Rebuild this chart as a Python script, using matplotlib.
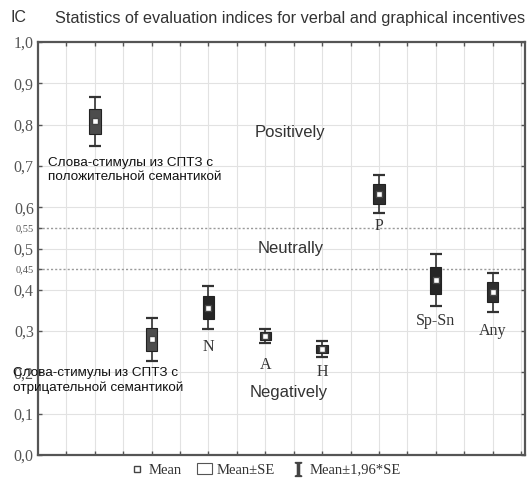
import numpy as np
import matplotlib
matplotlib.use("Agg")
import matplotlib.pyplot as plt
from matplotlib.lines import Line2D
from matplotlib.patches import Patch

plt.rcParams['mathtext.fontset'] = 'stix'

# values
groups = ['pos', 'neg', 'N', 'A', 'H', 'P', 'Sp-Sn', 'Any']
labels = ['', '', 'N', 'A', 'H', 'P', 'Sp-Sn', 'Any']
means = [0.808, 0.280, 0.357, 0.288, 0.257, 0.632, 0.423, 0.394]
se = [0.030, 0.027, 0.027, 0.009, 0.010, 0.024, 0.032, 0.024]
box_colors = ['#4d4d4d', '#4d4d4d', '#262626', '#2e2e2e', '#2e2e2e', '#2e2e2e', '#262626', '#2e2e2e']
yticks = [0.0, 0.1, 0.2, 0.3, 0.4, 0.45, 0.5, 0.55, 0.6, 0.7, 0.8, 0.9, 1.0]

# gap between whisker end and the group label (axis units)
label_gap = [0, 0, 0.022, 0.032, 0.018, 0.012, 0.017, 0.027]

means = np.array(means)
se = np.array(se)
x = np.arange(1, len(means) + 1)

fig = plt.figure(figsize=(5.27, 4.83), dpi=100)
ax = fig.add_axes([38 / 527, 1 - 455 / 483, 487 / 527, 413 / 483])

# grid
for gx in np.arange(0.5, 8.6, 0.5):
    ax.axvline(gx, color='#e2e2e2', lw=0.8, zorder=0)
for gy in np.arange(0.1, 1.0, 0.1):
    ax.axhline(gy, color='#e2e2e2', lw=0.8, zorder=0)
for gy in [0.45, 0.55]:
    ax.axhline(gy, color='#9a9a9a', lw=1.0, ls=(0, (1.5, 1.5)), zorder=1)

# whiskers, boxes, means
ax.errorbar(x, means, yerr=1.96 * se, fmt='none', ecolor='#333333',
            elinewidth=1.2, capsize=4, capthick=1.6, zorder=2)
ax.bar(x, 2 * se, bottom=means - se, width=0.2, color=box_colors,
       edgecolor='#222222', linewidth=0.8, zorder=3)
ax.plot(x, means, ls='none', marker='s', ms=4.5, mfc='white', mec='#444444',
        mew=1.0, zorder=4)

for xi, m, s, lab, g in zip(x, means, se, labels, label_gap):
    if lab:
        ax.text(xi, m - 1.96 * s - g, lab, ha='center', va='top',
                family='Liberation Serif', fontsize=11.5, color='#333333')

ax.set_xlim(0, 8.57)
ax.set_ylim(0, 1.0)
ax.set_xticks(np.arange(0.5, 8.6, 0.5))
ax.set_xticklabels([])
ax.set_yticks(yticks)
ax.set_yticklabels([('%.2f' % t if t in (0.45, 0.55) else '%.1f' % t).replace('.', ',')
                    for t in yticks], family='Liberation Serif', color='#555555')
for t, lab in zip(yticks, ax.get_yticklabels()):
    lab.set_fontsize(7.5 if t in (0.45, 0.55) else 11.5)
ax.tick_params(axis='both', direction='in', length=3, width=1, color='#555555',
               top=True, right=True, bottom=True, labelbottom=False, pad=3)
for sp in ax.spines.values():
    sp.set_color('#555555')
    sp.set_linewidth(1.6)

sans = 'Liberation Sans'
ax.text(4.44, 0.78, 'Positively', ha='center', va='center', family=sans,
        fontsize=12, color='#333333')
ax.text(4.44, 0.50, 'Neutrally', ha='center', va='center', family=sans,
        fontsize=12, color='#333333')
ax.text(4.42, 0.152, 'Negatively', ha='center', va='center', family=sans,
        fontsize=12, color='#333333')
ax.text(0.18, 0.69, 'Слова-стимулы из СПТЗ с\nположительной семантикой',
        ha='left', va='center', family=sans, fontsize=9.7, color='#111111',
        linespacing=1.25)
ax.text(-0.44, 0.18, 'Слова-стимулы из СПТЗ с\nотрицательной семантикой',
        ha='left', va='center', family=sans, fontsize=9.7, color='#111111',
        linespacing=1.25, clip_on=False)

fig.text(10 / 527, 1 - 18 / 483, 'IC', ha='left', va='center', family=sans,
         fontsize=11.5, color='#333333')
fig.text(55 / 527, 1 - 18 / 483,
         'Statistics of evaluation indices for verbal and graphical incentives',
         ha='left', va='center', family=sans, fontsize=11.7, color='#333333')

handles = [
    Line2D([], [], ls='none', marker='s', ms=4.5, mfc='white', mec='#444444', mew=1.0),
    Patch(facecolor='white', edgecolor='#555555', linewidth=0.8),
    Line2D([], [], ls='none', marker=r'$\mathrm{I}$', ms=10, color='#444444'),
]
fig.legend(handles, ['Mean', 'Mean±SE', 'Mean±1,96*SE'], loc='center',
           bbox_to_anchor=(265 / 527, 1 - 470 / 483), ncol=3, frameon=False,
           prop={'family': 'Liberation Serif', 'size': 10.5},
           handlelength=1.0, handletextpad=0.3, columnspacing=1.1,
           labelcolor='#333333')

fig.savefig('out.png', dpi=100)
